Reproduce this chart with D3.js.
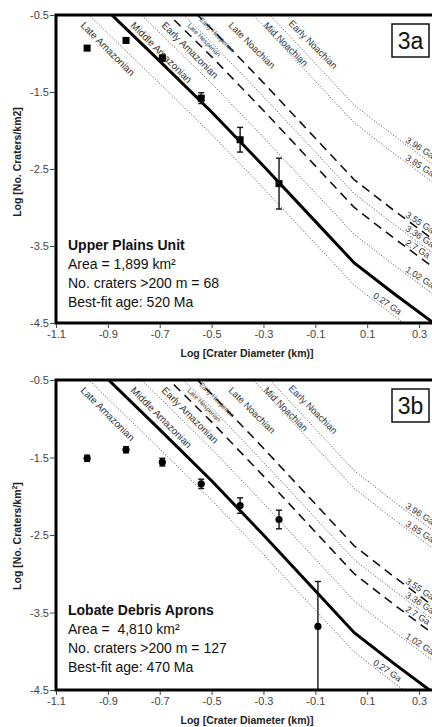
<html>
<head>
<meta charset="utf-8">
<script src="https://d3js.org/d3.v7.min.js"></script>
<style>
    body { margin: 0; background: #fff; }
    text { font-family: "Liberation Sans", Arial, sans-serif; }
</style>
</head>
<body>
<div id="chart"></div>
<script>
// crater diameters (log km) where the isochrons were read
var diam = [-1.1, -0.9, -0.7, -0.5, -0.3, -0.1, 0.05, 0.2, 0.4];

// isochrons, log N per km2
var iso027 = [-0.08, -0.74, -1.39, -2.05, -2.75, -3.47, -4.01, -4.40, -4.90];
var iso102 = [0.58, -0.08, -0.73, -1.39, -2.09, -2.81, -3.35, -3.74, -4.24];
var iso270 = [0.93, 0.27, -0.38, -1.04, -1.74, -2.46, -3.00, -3.39, -3.89];
var iso336 = [1.11, 0.45, -0.20, -0.86, -1.56, -2.28, -2.82, -3.21, -3.71];
var iso355 = [1.29, 0.63, -0.02, -0.68, -1.38, -2.10, -2.64, -3.03, -3.53];
var iso385 = [2.03, 1.37, 0.72, 0.06, -0.64, -1.36, -1.90, -2.29, -2.79];
var iso396 = [2.26, 1.60, 0.95, 0.29, -0.41, -1.13, -1.67, -2.06, -2.56];
var isoLabels = ["0.27 Ga", "1.02 Ga", "2.7 Ga", "3.36 Ga", "3.55 Ga", "3.85 Ga", "3.96 Ga"];
var isoDashed = [false, false, true, false, true, false, false];

// best fit isochrons
var fit520 = [0.21, -0.45, -1.10, -1.76, -2.46, -3.18, -3.72, -4.11, -4.61];
var fit470 = [0.17, -0.49, -1.14, -1.80, -2.50, -3.22, -3.76, -4.15, -4.65];

// measured crater densities
var upperX = [-0.98, -0.83, -0.69, -0.54, -0.39, -0.24];
var upperY = [-0.93, -0.83, -1.06, -1.58, -2.12, -2.69];
var upperErr = [0.03, 0.03, 0.04, 0.07, 0.16, 0.33];

var ldaX = [-0.98, -0.83, -0.69, -0.54, -0.39, -0.24, -0.09];
var ldaY = [-1.51, -1.40, -1.56, -1.84, -2.12, -2.30, -3.68];
var ldaErrHi = [0.04, 0.04, 0.05, 0.06, 0.10, 0.12, 0.58];
var ldaErrLo = [0.04, 0.04, 0.05, 0.06, 0.10, 0.12, 0.82];

var epochs = ["Late Amazonian", "Middle Amazonian", "Early Amazonian", "Late Hesperian",
    "Early Hesperian", "Late Noachian", "Mid Noachian", "Early Noachian"];

var xTicks = [-1.1, -0.9, -0.7, -0.5, -0.3, -0.1, 0.1, 0.3];
var yTicks = [-0.5, -1.5, -2.5, -3.5, -4.5];

// label placement (px offsets from panel top) for the epoch names
var epochPos = [[80, 11, 10], [130, 11, 10], [161, 11, 10], [187, 11, 6.5],
    [199, 5, 6.5], [228, 11, 9.5], [263, 11, 9.5], [288, 9, 9.5]];

var width = 432, height = 727;
var left = 56, right = 445;

var svg = d3.select("#chart").append("svg")
    .attr("width", width)
    .attr("height", height);

var xs = d3.scaleLinear().domain([-1.1, 0.4]).range([left, right]);

function drawPanel(p, k) {
    var ys = d3.scaleLinear().domain([-0.5, -4.5]).range([p.top, p.bottom]);
    var g = svg.append("g");

    g.append("clipPath").attr("id", "clip" + k)
        .append("rect")
        .attr("x", left).attr("y", p.top)
        .attr("width", right - left).attr("height", p.bottom - p.top);

    var plot = g.append("g").attr("clip-path", "url(#clip" + k + ")");
    var line = d3.line()
        .x(function (d, i) { return xs(diam[i]); })
        .y(function (d) { return ys(d); });

    var isos = [iso027, iso102, iso270, iso336, iso355, iso385, iso396];
    isos.forEach(function (s, i) {
        plot.append("path")
            .attr("d", line(s))
            .attr("fill", "none")
            .attr("stroke", isoDashed[i] ? "#111" : "#444")
            .attr("stroke-width", isoDashed[i] ? 1.6 : 1)
            .attr("stroke-dasharray", isoDashed[i] ? "9,6" : "1,2");

        // label along the end of the curve
        var lx = i == 0 ? 0.12 : 0.245;
        var j = d3.bisectRight(diam, lx) - 1;
        var t = (lx - diam[j]) / (diam[j + 1] - diam[j]);
        var ly = s[j] + t * (s[j + 1] - s[j]);
        var ang = Math.atan2(ys(s[j + 1]) - ys(s[j]), xs(diam[j + 1]) - xs(diam[j])) * 180 / Math.PI - 4;
        plot.append("text")
            .attr("transform", "translate(" + xs(lx) + "," + (ys(ly) - 2) + ") rotate(" + ang + ")")
            .attr("font-size", 9)
            .attr("fill", "#333")
            .text(isoLabels[i]);
    });

    plot.append("path")
        .attr("d", line(p.fit))
        .attr("fill", "none")
        .attr("stroke", "#000")
        .attr("stroke-width", 3);

    epochs.forEach(function (e, i) {
        var pos = epochPos[i];
        plot.append("text")
            .attr("transform", "translate(" + pos[0] + "," + (p.top + pos[1]) + ") rotate(45)")
            .attr("font-size", pos[2])
            .attr("fill", "#333")
            .text(e);
    });

    // error bars
    p.px.forEach(function (xv, i) {
        var hi = p.py[i] + p.eh[i], lo = p.py[i] - p.el[i];
        plot.append("line")
            .attr("x1", xs(xv)).attr("x2", xs(xv))
            .attr("y1", ys(hi)).attr("y2", ys(lo))
            .attr("stroke", "#111").attr("stroke-width", 1.4);
        [hi, lo].forEach(function (v) {
            plot.append("line")
                .attr("x1", xs(xv) - 3).attr("x2", xs(xv) + 3)
                .attr("y1", ys(v)).attr("y2", ys(v))
                .attr("stroke", "#111").attr("stroke-width", 1.4);
        });
        if (p.square) {
            plot.append("rect")
                .attr("x", xs(xv) - 3.5).attr("y", ys(p.py[i]) - 3.5)
                .attr("width", 7).attr("height", 7)
                .attr("fill", "#000");
        } else {
            plot.append("circle")
                .attr("cx", xs(xv)).attr("cy", ys(p.py[i]))
                .attr("r", 3.6)
                .attr("fill", "#000");
        }
    });

    // frame
    g.append("rect")
        .attr("x", left).attr("y", p.top)
        .attr("width", right - left).attr("height", p.bottom - p.top)
        .attr("fill", "none").attr("stroke", "#000").attr("stroke-width", 3);

    // axes
    var ya = g.append("g")
        .attr("transform", "translate(" + (left - 1) + ",0)")
        .call(d3.axisLeft(ys).tickValues(yTicks).tickSize(5)
            .tickFormat(function (d) { return d.toFixed(1); }));
    var xa = g.append("g")
        .attr("transform", "translate(0," + (p.bottom + 1) + ")")
        .call(d3.axisBottom(xs).tickValues(xTicks).tickSize(4)
            .tickFormat(function (d) { return d.toFixed(1); }));
    [ya, xa].forEach(function (a) {
        a.select(".domain").remove();
        a.selectAll("text").attr("font-size", 11).attr("fill", "#444")
            .style("font-family", "Liberation Sans, Arial, sans-serif");
        a.selectAll("line").attr("stroke", "#444");
    });
    ya.selectAll("text").attr("x", -6);
    xa.selectAll("text").attr("y", 6);

    // axis titles
    g.append("text")
        .attr("x", 247).attr("y", p.bottom + 34)
        .attr("text-anchor", "middle")
        .attr("font-size", 10.5).attr("font-weight", "bold")
        .attr("fill", "#222")
        .text("Log [Crater Diameter (km)]");
    var yt = g.append("text")
        .attr("transform", "translate(21," + (p.top + p.ytitle) + ") rotate(-90)")
        .attr("text-anchor", "middle")
        .attr("font-size", 10.5).attr("font-weight", "bold")
        .attr("fill", "#222")
        .text("Log [No. Craters/km");
    if (p.sup) {
        yt.append("tspan").attr("dy", -4).attr("font-size", 7).text("2");
        yt.append("tspan").attr("dy", 4).text("]");
    } else {
        yt.append("tspan").text("2]");
    }

    // info block
    p.info.forEach(function (s, i) {
        g.append("text")
            .attr("x", 68).attr("y", p.top + 235 + i * 19)
            .attr("font-size", 14)
            .attr("font-weight", i == 0 ? "bold" : "normal")
            .attr("fill", "#111")
            .style("white-space", "pre")
            .text(s);
    });

    // panel tag
    g.append("rect")
        .attr("x", 392).attr("y", p.top + 9)
        .attr("width", 37).attr("height", 33)
        .attr("fill", "#fff").attr("stroke", "#111").attr("stroke-width", 1.5);
    g.append("text")
        .attr("x", 410.5).attr("y", p.top + 34)
        .attr("text-anchor", "middle")
        .attr("font-size", 23)
        .attr("fill", "#111")
        .text(p.name);
}

var panels = [
    { top: 15, bottom: 323, name: "3a", fit: fit520, px: upperX, py: upperY, eh: upperErr, el: upperErr,
      square: true, ytitle: 147, sup: false,
      info: ["Upper Plains Unit", "Area = 1,899 km\u00b2", "No. craters >200 m = 68", "Best-fit age: 520 Ma"] },
    { top: 380, bottom: 690, name: "3b", fit: fit470, px: ldaX, py: ldaY, eh: ldaErrHi, el: ldaErrLo,
      square: false, ytitle: 156, sup: true,
      info: ["Lobate Debris Aprons", "Area =  4,810 km\u00b2", "No. craters >200 m = 127", "Best-fit age: 470 Ma"] }
];
panels.forEach(drawPanel);
</script>
</body>
</html>
